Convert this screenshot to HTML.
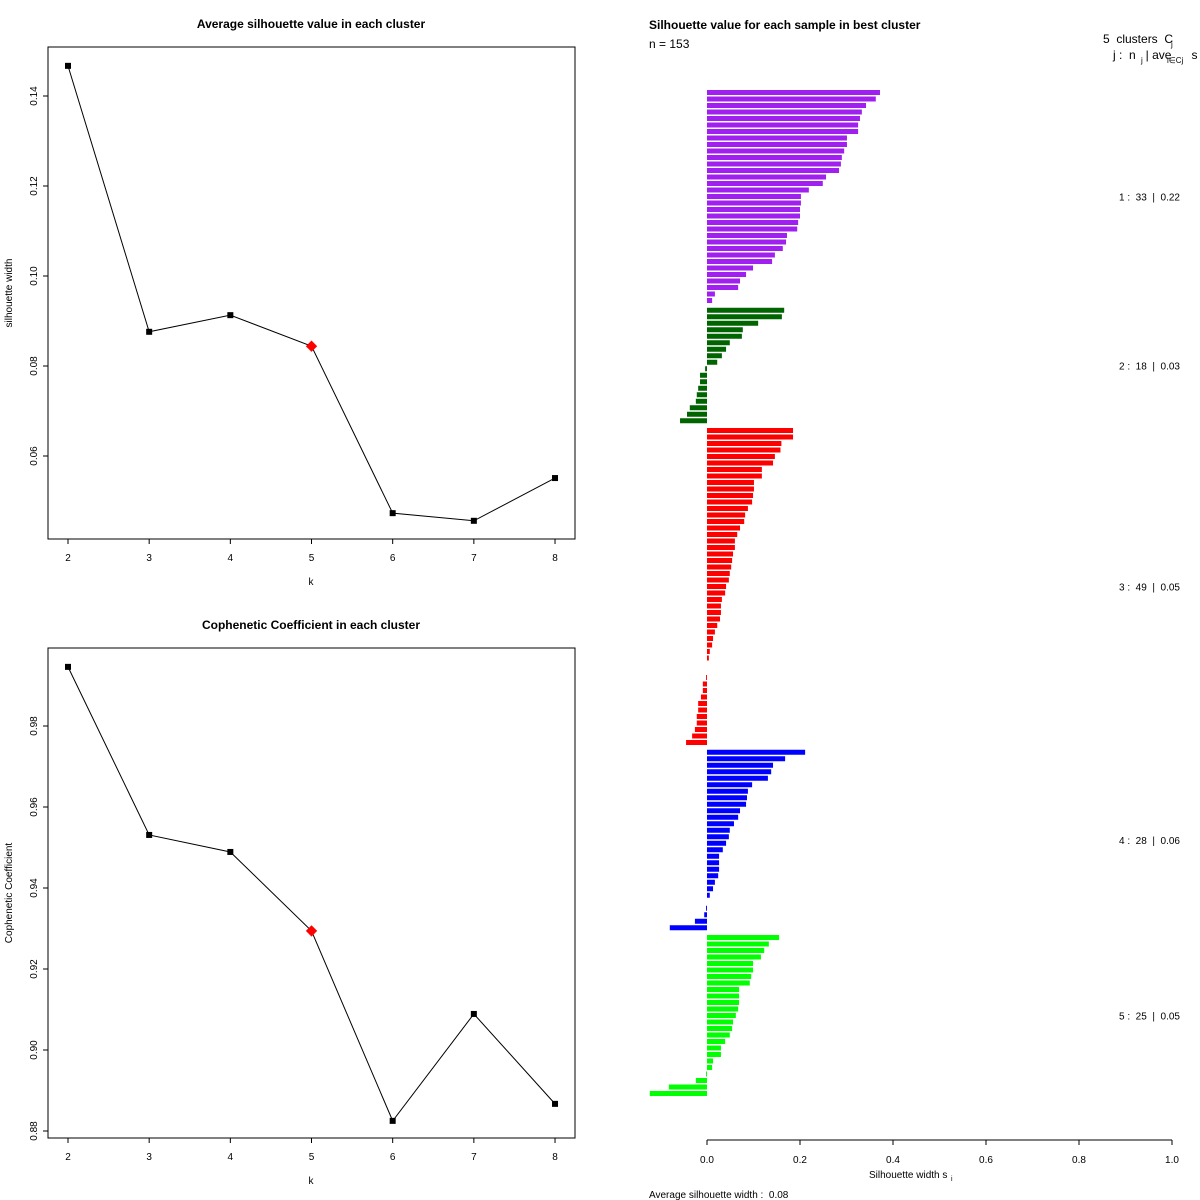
<!DOCTYPE html>
<html><head><meta charset="utf-8"><style>
body{margin:0;background:#fff}
svg{display:block;font-family:"Liberation Sans",sans-serif}
text{white-space:pre}
</style></head><body>
<svg id="s" width="1200" height="1200">
<rect width="1200" height="1200" fill="#fff"/>
<g id="g"></g>
</svg>
<script>
const ks=[2,3,4,5,6,7,8];
const silAvg=[0.1467,0.0876,0.0913,0.0844,0.0473,0.0456,0.0551];
const coph=[0.9946,0.9531,0.9489,0.9294,0.8825,0.9089,0.8867];
const bestK=5;
const silTicks=[0.06,0.08,0.10,0.12,0.14];
const copTicks=[0.88,0.90,0.92,0.94,0.96,0.98];
const c1=[0.372,0.363,0.342,0.333,0.329,0.325,0.325,0.301,0.301,0.295,0.290,0.288,0.284,0.256,0.249,0.219,0.202,0.202,0.200,0.200,0.196,0.194,0.172,0.170,0.163,0.146,0.140,0.099,0.084,0.071,0.067,0.017,0.011];
const c2=[0.166,0.161,0.110,0.077,0.075,0.049,0.041,0.032,0.022,-0.004,-0.015,-0.015,-0.019,-0.022,-0.024,-0.037,-0.043,-0.058];
const c3=[0.185,0.185,0.160,0.158,0.146,0.142,0.118,0.118,0.101,0.101,0.099,0.097,0.088,0.082,0.080,0.071,0.065,0.060,0.060,0.056,0.054,0.052,0.049,0.047,0.041,0.039,0.032,0.030,0.030,0.028,0.022,0.017,0.013,0.011,0.006,0.004,0,0,-0.002,-0.009,-0.009,-0.013,-0.019,-0.019,-0.022,-0.022,-0.026,-0.032,-0.045];
const c4=[0.211,0.168,0.142,0.138,0.131,0.097,0.088,0.086,0.084,0.071,0.067,0.058,0.049,0.047,0.041,0.034,0.026,0.026,0.026,0.024,0.017,0.013,0.006,0,-0.002,-0.006,-0.026,-0.080];
const c5=[0.155,0.133,0.123,0.116,0.099,0.099,0.095,0.092,0.069,0.069,0.069,0.067,0.062,0.056,0.054,0.049,0.039,0.030,0.030,0.013,0.011,-0.002,-0.024,-0.082,-0.123];
const clusters=[c1,c2,c3,c4,c5];
const clusterColors=["#a020f0","#006400","#ff0000","#0000ff","#00ff00"];
const clusterLabels=["1 :  33  |  0.22","2 :  18  |  0.03","3 :  49  |  0.05","4 :  28  |  0.06","5 :  25  |  0.05"];
const silXTicks=[0,0.2,0.4,0.6,0.8,1.0];

const NS="http://www.w3.org/2000/svg";
const g=document.getElementById('g');
function mk(t,a,txt){const e=document.createElementNS(NS,t);for(const k in a)e.setAttribute(k,a[k]);if(txt!==undefined)e.textContent=txt;g.appendChild(e);return e;}

function linePanel(vals,ticks,yFn,top,bot,title,ylab,prefix){
  const xFn=k=>68+(k-2)*81.17;
  let e=mk('rect',{x:48,y:top,width:527,height:bot-top,fill:'none',stroke:'#000','stroke-width':1});
  
  e=mk('text',{x:311,y:top-19,'text-anchor':'middle','font-size':12,'font-weight':'bold'},title);
  
  e=mk('line',{x1:68,x2:555,y1:bot,y2:bot,stroke:'#000'});
  
  ks.forEach(k=>{
    e=mk('line',{x1:xFn(k),x2:xFn(k),y1:bot,y2:bot+5,stroke:'#000'});
    
    e=mk('text',{x:xFn(k),y:bot+22,'text-anchor':'middle','font-size':10},k);
    
  });
  e=mk('text',{x:311,y:bot+46,'text-anchor':'middle','font-size':10},'k');
  
  const y0=yFn(ticks[0]),y1=yFn(ticks[ticks.length-1]);
  e=mk('line',{x1:48,x2:48,y1:y0,y2:y1,stroke:'#000'});
  
  ticks.forEach(t=>{
    const y=yFn(t);
    e=mk('line',{x1:43,x2:48,y1:y,y2:y,stroke:'#000'});
    
    e=mk('text',{x:0,y:0,'text-anchor':'middle','font-size':10,transform:`translate(37,${y}) rotate(-90)`},t.toFixed(2));
    
  });
  e=mk('text',{x:0,y:0,'text-anchor':'middle','font-size':10,transform:`translate(12,${(top+bot)/2}) rotate(-90)`},ylab);
  
  const pts=ks.map((k,i)=>xFn(k)+','+yFn(vals[i])).join(' ');
  e=mk('polyline',{points:pts,fill:'none',stroke:'#000','stroke-width':1});
  
  ks.forEach((k,i)=>{
    const x=xFn(k),y=yFn(vals[i]);
    if(k===bestK){
      e=mk('rect',{x:x-4,y:y-4,width:8,height:8,fill:'#ff0000',transform:`rotate(45 ${x} ${y})`});
      
    }else{
      e=mk('rect',{x:x-3,y:y-3,width:6,height:6,fill:'#000'});
      
    }
    
  });
}
linePanel(silAvg,silTicks,v=>456-(v-0.06)*4500,47,539,'Average silhouette value in each cluster','silhouette width','silhouette');
linePanel(coph,copTicks,v=>1131-(v-0.88)*4050,648,1138,'Cophenetic Coefficient in each cluster','Cophenetic Coefficient','cophenetic');

// silhouette bar plot
const sx=v=>707+v*465;
const pitch=6.5;
let e=mk('text',{x:649,y:29,'font-size':12,'font-weight':'bold'},'Silhouette value for each sample in best cluster');

e=mk('text',{x:649,y:48,'font-size':12},'n = 153');

e=mk('text',{x:1103,y:43,'font-size':12},'5  clusters  C');

e=mk('text',{x:1171,y:47,'font-size':8},'j');

e=mk('text',{x:1113,y:59,'font-size':12},'j :  n   | ave      s');

e=mk('text',{x:1141,y:63,'font-size':8},'j');

e=mk('text',{x:1167,y:63,'font-size':8},'i∈Cj');

let slot=0;
clusters.forEach((c,ci)=>{
  if(ci>0)slot+=0.5;
  const start=slot;
  c.forEach(v=>{
    const y=90+slot*pitch;
    const x=Math.min(sx(0),sx(v)),w=Math.abs(sx(v)-sx(0));
    const r=mk('rect',{x:x,y:y,width:w,height:5,fill:clusterColors[ci]});
    
    
    slot++;
  });
  const mid=90+(start+slot)/2*pitch;
  const t=mk('text',{x:1119,y:mid+3,'font-size':10},clusterLabels[ci]);
  
  
});
e=mk('line',{x1:sx(0),x2:sx(1),y1:1140,y2:1140,stroke:'#000'});

silXTicks.forEach(t=>{
  e=mk('line',{x1:sx(t),x2:sx(t),y1:1140,y2:1145,stroke:'#000'});
  
  e=mk('text',{x:sx(t),y:1163,'text-anchor':'middle','font-size':10},t.toFixed(1));
  
});
e=mk('text',{x:869,y:1178,'font-size':10},'Silhouette width s');

e=mk('text',{x:951,y:1181,'font-size':7},'i');

e=mk('text',{x:649,y:1198,'font-size':10},'Average silhouette width :  0.08');

</script>
</body></html>
